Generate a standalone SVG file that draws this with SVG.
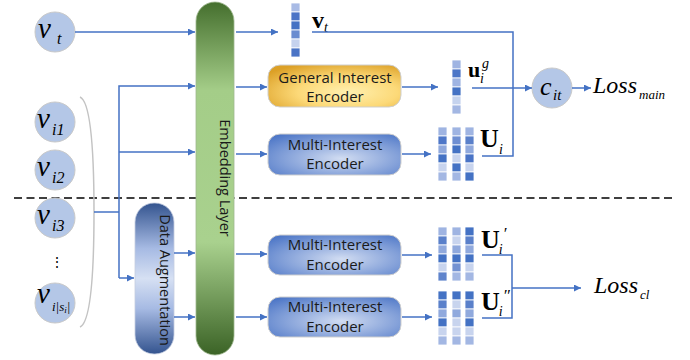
<svg xmlns="http://www.w3.org/2000/svg" width="690" height="360" viewBox="0 0 690 360">
<defs>
<marker id="ah" viewBox="0 0 10 10" refX="10" refY="5" markerWidth="7" markerHeight="7" markerUnits="userSpaceOnUse" orient="auto">
<path d="M0,0 L10,5 L0,10 z" fill="#4472c4"/>
</marker>
<linearGradient id="gEmb" x1="0" y1="0" x2="0" y2="1">
<stop offset="0" stop-color="#456f2e"/>
<stop offset="0.25" stop-color="#a4cd88"/>
<stop offset="0.68" stop-color="#a9d18e"/>
<stop offset="1" stop-color="#3b6326"/>
</linearGradient>
<linearGradient id="gDA2" x1="0" y1="0" x2="0" y2="1">
<stop offset="0" stop-color="#34548f"/>
<stop offset="0.3" stop-color="#a6bae3"/>
<stop offset="0.5" stop-color="#d6e0f3"/>
<stop offset="0.7" stop-color="#a6bae3"/>
<stop offset="1" stop-color="#34548f"/>
</linearGradient>
<radialGradient id="gMIE" cx="0.55" cy="0.6" r="0.75">
<stop offset="0" stop-color="#d2ddf2"/>
<stop offset="1" stop-color="#4a74c6"/>
</radialGradient>
<radialGradient id="gGIE" cx="0.6" cy="0.65" r="0.75">
<stop offset="0" stop-color="#fff0b0"/>
<stop offset="0.5" stop-color="#fcd978"/>
<stop offset="1" stop-color="#dca026"/>
</radialGradient>
</defs>
<style>
.circ{fill:#b4c7e7;stroke:#c9c9c9;stroke-width:1}
.m{font-family:"Liberation Serif",serif;font-style:italic;fill:#000}
.b{font-family:"Liberation Serif",serif;font-weight:bold;fill:#000}
.lbl{font-family:"Open Sans","Liberation Sans",sans-serif;font-size:15px;fill:#1a1a1a;text-anchor:middle}
.vl{font-family:"Open Sans","Liberation Sans",sans-serif;font-size:14.5px;fill:#1a1a1a;text-anchor:middle}
.box{stroke:#cfcfcf;stroke-width:1}
.ln{fill:none;stroke:#4472c4;stroke-width:1.5}
.ar{fill:none;stroke:#4472c4;stroke-width:1.5;marker-end:url(#ah)}
.cell rect{stroke:#fff;stroke-width:0.8}
</style>

<line x1="14" y1="198" x2="672" y2="198" stroke="#000" stroke-width="1.3" stroke-dasharray="8 4.5"/>

<path d="M80,97 Q94,103 94,212 Q94,321 80,327" fill="none" stroke="#c3c3c3" stroke-width="1.5"/>

<g id="vt"><circle class="circ" cx="55" cy="32" r="20"/><text class="m" x="38" y="38" font-size="29">v</text><text class="m" x="57" y="44" font-size="16">t</text></g>
<g id="vi1"><circle class="circ" cx="55" cy="122" r="20"/><text class="m" x="37" y="128" font-size="29">v</text><text class="m" x="52" y="135" font-size="16">i1</text></g>
<g id="vi2"><circle class="circ" cx="55" cy="170" r="20"/><text class="m" x="37" y="176" font-size="29">v</text><text class="m" x="52" y="183" font-size="16">i2</text></g>
<g id="vi3"><circle class="circ" cx="55" cy="218" r="20"/><text class="m" x="37" y="224" font-size="29">v</text><text class="m" x="52" y="231" font-size="16">i3</text></g>
<g id="dots"><text x="57" y="267" font-family="Liberation Sans,sans-serif" font-size="14" text-anchor="middle">&#8942;</text></g>
<g id="vis"><circle class="circ" cx="55" cy="303" r="20"/><text class="m" x="37" y="303" font-size="29">v</text><text class="m" x="52" y="311" font-size="13">i|s<tspan font-size="9" dy="2">i</tspan><tspan dy="-2">|</tspan></text></g>

<g id="emb"><rect x="196" y="2" width="38" height="353" rx="19" fill="url(#gEmb)" stroke="#9fb88f" stroke-width="0.8"/><text class="vl" transform="translate(215,178) rotate(90)" dy="-4.5">Embedding Layer</text></g>
<g id="da"><rect x="135" y="203" width="39" height="151" rx="19" fill="url(#gDA2)" stroke="#c4cde0" stroke-width="0.8"/><text class="vl" transform="translate(155,280) rotate(90)" dy="-4.5">Data Augmentation</text></g>

<g id="gie"><rect class="box" x="268" y="65" width="133" height="42" rx="12" fill="url(#gGIE)"/><text class="lbl" x="335" y="83">General Interest</text><text class="lbl" x="335" y="102">Encoder</text></g>
<g id="mie1"><rect class="box" x="268" y="134" width="133" height="41" rx="12" fill="url(#gMIE)"/><text class="lbl" x="335" y="150">Multi-Interest</text><text class="lbl" x="335" y="169">Encoder</text></g>
<g id="mie2"><rect class="box" x="268" y="235" width="133" height="40" rx="12" fill="url(#gMIE)"/><text class="lbl" x="335" y="250">Multi-Interest</text><text class="lbl" x="335" y="270">Encoder</text></g>
<g id="mie3"><rect class="box" x="268" y="297" width="133" height="40" rx="12" fill="url(#gMIE)"/><text class="lbl" x="335" y="312">Multi-Interest</text><text class="lbl" x="335" y="332">Encoder</text></g>

<g id="vec-vt" class="cell">
<rect x="291" y="3" width="9" height="9" fill="#a9bbe5"/><rect x="291" y="12" width="9" height="9" fill="#4c74c6"/><rect x="291" y="21" width="9" height="9" fill="#4472c4"/><rect x="291" y="30" width="9" height="9" fill="#6a8cd0"/><rect x="291" y="39" width="9" height="9" fill="#c5d2ee"/><rect x="291" y="48" width="9" height="9" fill="#4a74c6"/>
</g>
<g id="vec-ug" class="cell">
<rect x="452" y="60" width="9" height="9" fill="#9fb4e2"/><rect x="452" y="69" width="9" height="9" fill="#4d76c7"/><rect x="452" y="78" width="9" height="9" fill="#9fb4e2"/><rect x="452" y="87" width="9" height="9" fill="#4472c4"/><rect x="452" y="96" width="9" height="9" fill="#c5d3ee"/><rect x="452" y="105" width="9" height="9" fill="#a3b7e3"/>
</g>
<g id="mat-Ui" class="cell">
<rect x="438" y="127" width="9" height="9" fill="#9fb4e2"/><rect x="438" y="136" width="9" height="9" fill="#4e77c8"/><rect x="438" y="145" width="9" height="9" fill="#90a9dd"/><rect x="438" y="154" width="9" height="9" fill="#4472c4"/><rect x="438" y="163" width="9" height="9" fill="#c8d4ee"/><rect x="438" y="172" width="9" height="9" fill="#a3b7e3"/>
<rect x="452" y="127" width="9" height="9" fill="#9fb4e2"/><rect x="452" y="136" width="9" height="9" fill="#6f8fd2"/><rect x="452" y="145" width="9" height="9" fill="#4472c4"/><rect x="452" y="154" width="9" height="9" fill="#c8d4ee"/><rect x="452" y="163" width="9" height="9" fill="#4472c4"/><rect x="452" y="172" width="9" height="9" fill="#a3b7e3"/>
<rect x="465" y="127" width="9" height="9" fill="#9fb4e2"/><rect x="465" y="136" width="9" height="9" fill="#5a80ca"/><rect x="465" y="145" width="9" height="9" fill="#90a9dd"/><rect x="465" y="154" width="9" height="9" fill="#4a74c6"/><rect x="465" y="163" width="9" height="9" fill="#c8d4ee"/><rect x="465" y="172" width="9" height="9" fill="#4472c4"/>
</g>
<g id="mat-Ui1" class="cell">
<rect x="438" y="227" width="9" height="9" fill="#9fb4e2"/><rect x="438" y="236" width="9" height="9" fill="#5a80ca"/><rect x="438" y="245" width="9" height="9" fill="#90a9dd"/><rect x="438" y="254" width="9" height="9" fill="#4472c4"/><rect x="438" y="263" width="9" height="9" fill="#c8d4ee"/><rect x="438" y="272" width="9" height="9" fill="#5f84cc"/>
<rect x="452" y="227" width="9" height="9" fill="#9fb4e2"/><rect x="452" y="236" width="9" height="9" fill="#c8d4ee"/><rect x="452" y="245" width="9" height="9" fill="#90a9dd"/><rect x="452" y="254" width="9" height="9" fill="#4472c4"/><rect x="452" y="263" width="9" height="9" fill="#7392d2"/><rect x="452" y="272" width="9" height="9" fill="#a3b7e3"/>
<rect x="465" y="227" width="9" height="9" fill="#4472c4"/><rect x="465" y="236" width="9" height="9" fill="#5a80ca"/><rect x="465" y="245" width="9" height="9" fill="#90a9dd"/><rect x="465" y="254" width="9" height="9" fill="#4472c4"/><rect x="465" y="263" width="9" height="9" fill="#c8d4ee"/><rect x="465" y="272" width="9" height="9" fill="#a3b7e3"/>
</g>
<g id="mat-Ui2" class="cell">
<rect x="438" y="291" width="9" height="9" fill="#4472c4"/><rect x="438" y="300" width="9" height="9" fill="#5a80ca"/><rect x="438" y="309" width="9" height="9" fill="#90a9dd"/><rect x="438" y="318" width="9" height="9" fill="#4472c4"/><rect x="438" y="327" width="9" height="9" fill="#c8d4ee"/><rect x="438" y="336" width="9" height="9" fill="#a3b7e3"/>
<rect x="452" y="291" width="9" height="9" fill="#4472c4"/><rect x="452" y="300" width="9" height="9" fill="#c8d4ee"/><rect x="452" y="309" width="9" height="9" fill="#90a9dd"/><rect x="452" y="318" width="9" height="9" fill="#c8d4ee"/><rect x="452" y="327" width="9" height="9" fill="#c8d4ee"/><rect x="452" y="336" width="9" height="9" fill="#a3b7e3"/>
<rect x="465" y="291" width="9" height="9" fill="#4472c4"/><rect x="465" y="300" width="9" height="9" fill="#5a80ca"/><rect x="465" y="309" width="9" height="9" fill="#90a9dd"/><rect x="465" y="318" width="9" height="9" fill="#4472c4"/><rect x="465" y="327" width="9" height="9" fill="#c8d4ee"/><rect x="465" y="336" width="9" height="9" fill="#a3b7e3"/>
</g>

<g id="cit"><circle class="circ" cx="552" cy="88" r="20"/><text class="m" x="540" y="95" font-size="26">c</text><text class="m" x="553" y="100" font-size="15">it</text></g>

<g id="labels">
<text class="b" x="312" y="28" font-size="24">v</text><text class="m" x="324" y="32" font-size="14">t</text>
<text class="b" x="468" y="77" font-size="22">u</text><text class="m" x="482" y="68" font-size="14">g</text><text class="m" x="480" y="83" font-size="14">i</text>
<text class="b" x="480" y="147" font-size="26">U</text><text class="m" x="499" y="154" font-size="14">i</text>
<text class="b" x="481" y="248" font-size="26">U<tspan class="m" font-weight="normal" font-size="14" dy="6" dx="-1">i</tspan><tspan class="m" font-weight="normal" font-size="17" dx="0" dy="-15">&#8242;</tspan></text>
<text class="b" x="481" y="310" font-size="26">U<tspan class="m" font-weight="normal" font-size="14" dy="6" dx="-1">i</tspan><tspan class="m" font-weight="normal" font-size="17" dx="0" dy="-15">&#8243;</tspan></text>
<text class="m" x="593" y="93" font-size="24">Loss</text><text class="m" x="639" y="99" font-size="13">main</text>
<text class="m" x="594" y="293" font-size="24">Loss</text><text class="m" x="640" y="299" font-size="13">cl</text>
</g>

<g id="connectors">
<line class="ar" x1="75" y1="32" x2="195" y2="32"/>
<path class="ln" d="M94,212 H119"/>
<path class="ar" d="M119,278 V86 H195"/>
<line class="ar" x1="119" y1="152" x2="195" y2="152"/>
<line class="ar" x1="119" y1="278" x2="134" y2="278"/>
<line class="ar" x1="174" y1="253" x2="195" y2="253"/>
<line class="ar" x1="174" y1="317" x2="195" y2="317"/>
<line class="ar" x1="236" y1="32" x2="278" y2="32"/>
<line class="ar" x1="236" y1="87" x2="267" y2="87"/>
<line class="ar" x1="236" y1="154" x2="267" y2="154"/>
<line class="ar" x1="236" y1="254" x2="267" y2="254"/>
<line class="ar" x1="236" y1="317" x2="267" y2="317"/>
<line class="ar" x1="402" y1="87" x2="438" y2="87"/>
<line class="ar" x1="402" y1="154" x2="431" y2="154"/>
<line class="ar" x1="402" y1="255" x2="432" y2="255"/>
<line class="ar" x1="402" y1="317" x2="432" y2="317"/>
<path class="ln" d="M312,32 H513 V156 H482"/>
<line class="ar" x1="472" y1="88" x2="532" y2="88"/>
<line class="ar" x1="572" y1="88" x2="591" y2="88"/>
<path class="ln" d="M482,255 H512 V318 H482"/>
<line class="ar" x1="512" y1="288" x2="581" y2="288"/>
</g>
</svg>
